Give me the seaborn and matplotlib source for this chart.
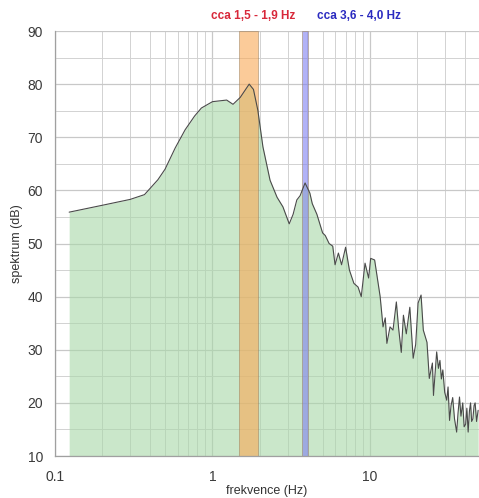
import numpy as np
import pandas as pd
import matplotlib
matplotlib.use("Agg")
import matplotlib.pyplot as plt
import seaborn as sns
from matplotlib.ticker import LogLocator, MultipleLocator, FixedLocator

freq = [0.123, 0.2, 0.3, 0.37, 0.45, 0.5, 0.58, 0.67, 0.77, 0.85, 1.0, 1.23, 1.35,
        1.5, 1.71, 1.82, 1.94, 2.09, 2.32, 2.57, 2.8, 3.07, 3.25, 3.43, 3.6, 3.87,
        4.15, 4.3, 4.6, 5.0, 5.2, 5.5, 5.8, 6.0, 6.3, 6.6, 7.0, 7.4, 7.9, 8.4, 8.8,
        9.3, 9.8, 10.1, 10.7, 11.6, 12.1, 12.5, 12.8, 13.4, 14.0, 14.7, 15.2, 15.8,
        16.3, 17.0, 17.9, 18.8, 19.5, 20.2, 21.1, 21.8, 23.0, 23.8, 24.9, 25.3,
        26.5, 27.2, 27.8, 28.4, 29.0, 29.8, 30.7, 31.3, 32.0, 32.7, 33.5, 34.4,
        35.5, 36.2, 37.0, 37.8, 38.8, 39.6, 40.5, 41.2, 42.0, 42.8, 43.5, 44.2,
        45.0, 45.8, 46.5, 47.5, 48.6]
spektrum = [55.9, 57.2, 58.3, 59.2, 62, 64, 68, 71.4, 74, 75.5, 76.7, 77, 76.2,
            77.5, 80, 79, 75.1, 68.2, 61.9, 58.7, 56.9, 53.7, 55.5, 58.2, 59, 61.4,
            59.5, 57.5, 55.5, 52, 51.5, 50, 49.5, 46, 48.2, 46, 49.3, 45, 42.5, 41.8, 40,
            46.3, 43.5, 47.2, 46.9, 40, 34.3, 36, 31.2, 34.3, 33.7, 39, 34, 29.5,
            36.5, 33, 38, 28.4, 31, 38.8, 40.3, 33.7, 31.4, 24.6, 27.5, 21.4,
            29.6, 26.5, 28, 24.5, 26.2, 22, 20.5, 23, 16.7, 19.5, 21, 17,
            14.5, 18, 21.1, 17.5, 20, 15.5, 16, 19, 14.5, 18.5, 20, 16.5,
            17, 19.5, 20, 16.5, 18.6]

band_labels = ["cca 1,5 - 1,9 Hz", "cca 3,6 - 4,0 Hz"]
band_ranges = [(1.47, 1.94), (3.69, 4.04)]
band_colors = ["#F9A955", "#8080F0"]
label_colors = ["#D8283A", "#2B2BC0"]
label_xfrac = [(253 - 55) / 424, (359 - 55) / 424]

y_ticks = [10, 20, 30, 40, 50, 60, 70, 80, 90]
x_ticks = [0.1, 1, 10]
x_ticklabels = ["0.1", "1", "10"]

df = pd.DataFrame({"freq": freq, "spektrum": spektrum})

sns.set_style("white")
plt.rcParams['font.family'] = ['Liberation Sans', 'DejaVu Sans']

fig = plt.figure(figsize=(4.79, 4.98), dpi=100)
ax = fig.add_axes([55/479, 42/498, (479-55)/479, (456-31)/498])

ax.set_xscale("log")
ax.set_xlim(0.1, 10 ** (np.log10(0.1) + (479 - 55) / 157.5))
ax.set_ylim(10, 90)

ax.fill_between(df["freq"], df["spektrum"], 10, color="#A8D8A8", alpha=0.6, lw=0, zorder=1)
sns.lineplot(data=df, x="freq", y="spektrum", ax=ax, color="#4A4A4A", lw=0.8, zorder=3)

for (lo, hi), c, lab, lc, xf in zip(band_ranges, band_colors, band_labels, label_colors, label_xfrac):
    ax.axvspan(lo, hi, facecolor=c, alpha=0.6, edgecolor="#9A8060", lw=0.6, zorder=2)
    ax.text(xf, 1.022, lab, transform=ax.transAxes, ha="center", va="bottom",
            color=lc, fontsize=8.5, fontweight="bold")

ax.xaxis.set_major_locator(FixedLocator(x_ticks))
ax.set_xticklabels(x_ticklabels)
ax.xaxis.set_minor_locator(LogLocator(base=10, subs=np.arange(2, 10)))
ax.xaxis.set_minor_formatter(plt.NullFormatter())
ax.yaxis.set_major_locator(FixedLocator(y_ticks))
ax.yaxis.set_minor_locator(MultipleLocator(5))

ax.grid(True, which="major", color="#C8C8C8", lw=0.9)
ax.grid(True, which="minor", color="#D2D2D2", lw=0.7)
for gl in ax.get_xgridlines() + ax.get_ygridlines():
    gl.set_zorder(1.5)

for s in ["top", "right"]:
    ax.spines[s].set_visible(False)
for s in ["left", "bottom"]:
    ax.spines[s].set_color("#A0A0A0")
    ax.spines[s].set_linewidth(0.9)
    ax.spines[s].set_zorder(4)

ax.tick_params(axis="both", which="major", length=5, color="#A0A0A0", labelsize=10,
               labelcolor="#3A3A3A", direction="out")
ax.tick_params(axis="both", which="minor", length=3, color="#A0A0A0", direction="out")
ax.tick_params(axis="x", pad=5)

ax.set_xlabel("frekvence (Hz)", fontsize=9, color="#333333", labelpad=1)
ax.set_ylabel("spektrum (dB)", fontsize=9, color="#333333", labelpad=3)

fig.savefig("out.png", dpi=100)
